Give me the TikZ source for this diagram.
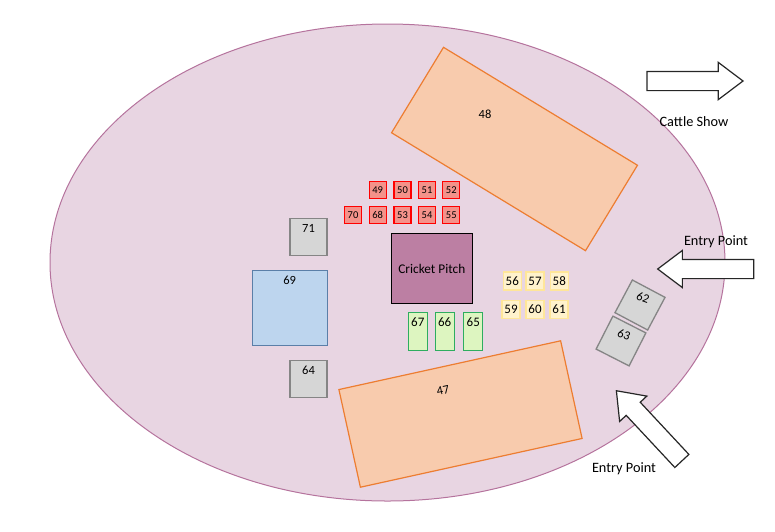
\documentclass[tikz,border=0pt]{standalone}
\usepackage{fontspec}
\setmainfont{Carlito}
\usetikzlibrary{shapes.arrows, shapes.geometric, positioning}
\definecolor{ground}{HTML}{E8D5E2}
\definecolor{groundline}{HTML}{B5739D}
\definecolor{stand}{HTML}{F8CBAD}
\definecolor{standline}{HTML}{ED7D31}
\definecolor{stall}{HTML}{F4928A}
\definecolor{pitch}{HTML}{BC7FA3}
\definecolor{snack}{HTML}{FFF2CC}
\definecolor{snackline}{HTML}{FFE699}
\definecolor{shop}{HTML}{DDF5C0}
\definecolor{shopline}{HTML}{2EAD5F}
\definecolor{stage}{HTML}{BDD5EE}
\definecolor{stageline}{HTML}{5B7FA8}
\definecolor{gate}{HTML}{D6D6D6}
\definecolor{gateline}{HTML}{858585}

\begin{document}
\begin{tikzpicture}[
  x=1pt, y=-1pt,
  standbox/.style={draw=standline, fill=stand, line width=1.2pt, minimum width=227pt, minimum height=100pt, inner sep=0pt},
  stallbox/.style={draw=red, fill=stall, line width=1.2pt, minimum size=17pt, inner sep=0pt, font=\fontsize{10.5}{12}\selectfont},
  snackbox/.style={draw=snackline, fill=snack, line width=1.2pt, minimum size=18pt, inner sep=0pt, font=\fontsize{13}{15}\selectfont},
  shopbox/.style={draw=shopline, fill=shop, line width=1.2pt, minimum width=19pt, minimum height=38pt, inner sep=0pt},
  gatebox/.style={draw=gateline, fill=gate, line width=1.3pt, minimum size=37pt, inner sep=0pt},
  tag/.style={font=\fontsize{12.5}{14}\selectfont, inner sep=0pt},
  way/.style={single arrow, draw=black!85, fill=white, line width=1.2pt, minimum height=96pt, minimum width=36pt, anchor=tip,
              single arrow head extend=9pt, single arrow tip angle=74, single arrow head indent=0pt, inner xsep=0pt, inner ysep=9pt},
  note/.style={font=\fontsize{14.3}{16}\selectfont, inner sep=0pt}
]
\useasboundingbox (0,0) rectangle (775,531);

\node[draw=groundline, fill=ground, line width=1pt, ellipse, minimum width=675pt, minimum height=477pt, inner sep=0pt] (ground) at (387.5,262.5) {};

\node[standbox, rotate=-31.3] (a48) at (514.5,149) {};
\node[standbox, rotate=12.4]  (a47) at (460.5,414) {};
\node[tag] (t48) at (485,114) {48};
\node[tag, rotate=12] (t47) at (443,390.5) {47};

\foreach \n/\x/\y in {49/377.7/189.7,50/402.5/189.7,51/427/189.7,52/451.3/189.7,70/353/215,68/377.7/215,53/402.5/215,54/427/215,55/451.3/215}
  \node[stallbox] (s\n) at (\x,\y) {\n};

\node[draw=black, fill=pitch, line width=1.3pt, minimum width=81pt, minimum height=70pt, inner sep=0pt, font=\fontsize{13.3}{15}\selectfont] (pitch) at (431.8,268.5) {Cricket Pitch};

\foreach \n/\x/\y in {56/512.3/281,57/535/281,58/559.3/281,59/511/309.3,60/535/309.3,61/559/309.3}
  \node[snackbox] (f\n) at (\x,\y) {\n};

\foreach \n/\x in {67/417.8,66/444.7,65/473.3} {
  \node[shopbox] (g\n) at (\x,331.3) {};
  \node[tag, font=\fontsize{13}{15}\selectfont, below=6pt of g\n.north] (t\n) {\n};
}

\node[gatebox] (b71) at (308.5,237) {};
\node[gatebox] (b64) at (308.5,379) {};
\node[draw=stageline, fill=stage, line width=1.2pt, minimum size=75pt, inner sep=0pt] (b69) at (289.7,308.3) {};
\node[tag, below=6pt of b71.north] (t71) {71};
\node[tag, below=6pt of b64.north] (t64) {64};
\node[tag, below=6pt of b69.north] (t69) {69};

\node[gatebox, rotate=-28] (b62) at (640,305) {};
\node[gatebox, rotate=-27] (b63) at (621,341) {};
\node[tag, rotate=-20] (t62) at (643,298) {62};
\node[tag, rotate=-20] (t63) at (624,335) {63};

\node[way] (show) at (744,81) {};
\node[way, rotate=180] (east) at (656.7,269) {};
\node[way, rotate=133] (south) at (615.7,390) {};

\node[note] (n1) at (694,121.5) {Cattle Show};
\node[note] (n2) at (716,241.5) {Entry Point};
\node[note] (n3) at (624,468.5) {Entry Point};
\end{tikzpicture}
\end{document}
